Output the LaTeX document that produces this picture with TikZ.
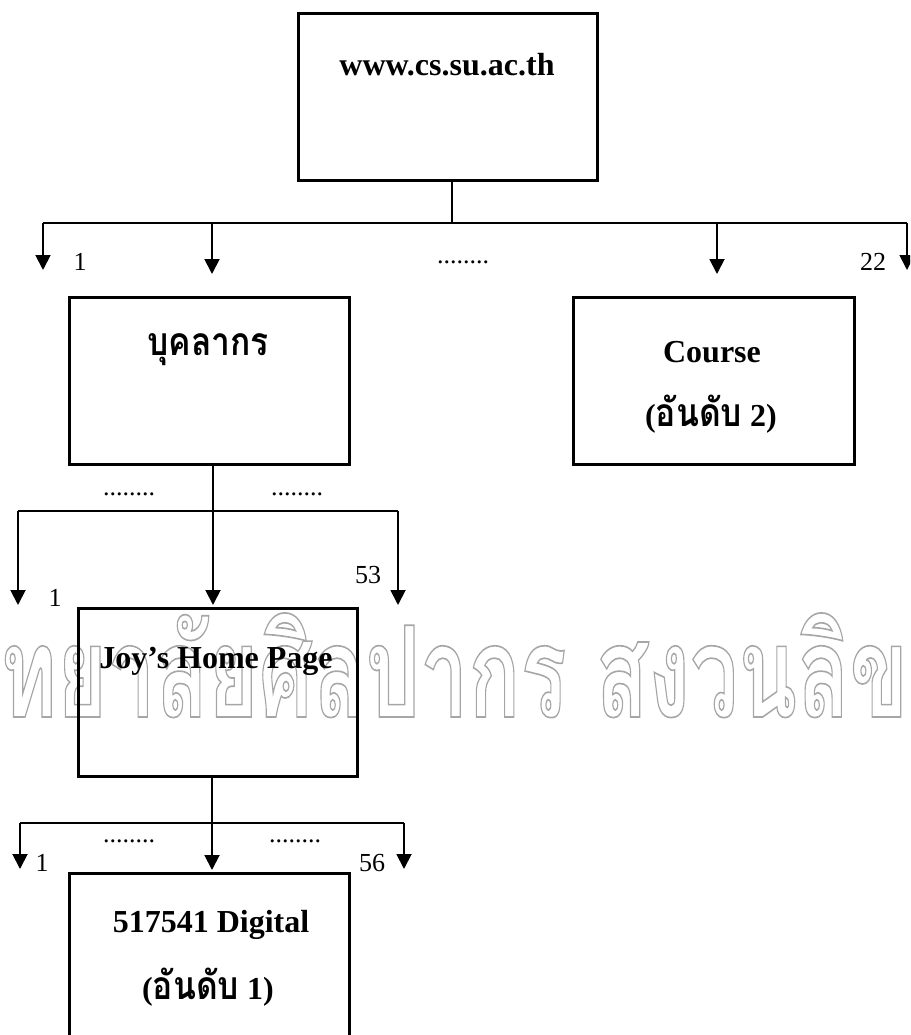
\documentclass[tikz,border=0pt]{standalone}
\usepackage{fontspec}
\usepackage{graphicx}
\usetikzlibrary{arrows.meta}
\setmainfont{Liberation Serif}
\newfontfamily\thai[Script=Thai]{Loma}
\newfontfamily\wmfont[Script=Thai]{Loma}
\newcommand{\outlinetext}[1]{\special{pdf:literal direct 1 Tr 1.3 w}#1\special{pdf:literal direct 0 Tr}}
\newcommand{\thw}[1]{\scalebox{1.05}[1.22]{\thai #1}}
\tikzset{
  box/.style={draw, line width=2.8pt, inner sep=0pt, anchor=north west},
  conn/.style={line width=1.9pt},
  arr/.style={conn, -{Triangle[width=15pt,length=15pt]}},
  lbl/.style={font=\bfseries\fontsize{32}{38}\selectfont, inner sep=0pt},
  num/.style={font=\fontsize{26}{30}\selectfont, inner sep=0pt},
  wm/.style={font=\wmfont\bfseries\fontsize{100}{110}\selectfont, text=black!35, inner sep=0pt, anchor=base west},
}
\begin{document}
\begin{tikzpicture}[x=1pt,y=-1pt]
\useasboundingbox (0,0) rectangle (910,1035);
\begin{scope}
\clip (0,0) rectangle (910,1035);
% watermark
\node[wm] (wmark) at (0,717) {\scalebox{0.86}[1.27]{\outlinetext{ทยาลัยศิลปากร สงวนลิขสิทธิ์}}};

% boxes
\node[box, minimum width=299pt, minimum height=167pt] (top) at (297,12) {};
\node[box, minimum width=280pt, minimum height=167pt] (staff) at (68,296) {};
\node[box, minimum width=281pt, minimum height=167pt] (course) at (572,296) {};
\node[box, minimum width=279pt, minimum height=168pt] (joy) at (77,607) {};
\node[box, minimum width=280pt, minimum height=190pt] (digital) at (68,872) {};

% box texts
\node[lbl] (toptxt) at (447,65) {www.cs.su.ac.th};
\node[lbl] (stafftxt) at (208,350) {\thw{บุคลากร}};
\node[lbl] (coursetxt) at (712,352) {Course};
\node[lbl] (coursetxt2) at (711,414) {(\thw{อันดับ} 2)};
\node[lbl] (joytxt) at (216,661) {Joy’s Home Page};
\node[lbl] (digtxt) at (211,925) {517541 Digital};
\node[lbl] (digtxt2) at (208,987) {(\thw{อันดับ} 1)};

% level 1 connectors
\coordinate (j1) at (452,223);
\coordinate (l1) at (43,223);
\coordinate (m1) at (212,223);
\coordinate (n1) at (717,223);
\coordinate (r1) at (907,223);
\coordinate (e1a) at (43,270);
\coordinate (e1b) at (212,274);
\coordinate (e1c) at (717,274);
\coordinate (e1d) at (907,270);
\draw[conn] (top.south -| j1) -- (j1);
\draw[conn] (l1) -- (r1);
\draw[arr] (l1) -- (e1a);
\draw[arr] (m1) -- (e1b);
\draw[arr] (n1) -- (e1c);
\draw[arr] (r1) -- (e1d);
\node[num] (n1a) at (80,262) {1};
\node[num] (d1) at (463,262) {........};
\node[num] (n1b) at (873,262) {22};

% level 2 connectors
\coordinate (j2) at (213,511);
\coordinate (l2) at (18,511);
\coordinate (r2) at (398,511);
\coordinate (e2a) at (18,605);
\coordinate (e2b) at (213,605);
\coordinate (e2c) at (398,605);
\draw[conn] (l2) -- (r2);
\draw[arr] (staff.south -| j2) -- (e2b);
\draw[arr] (l2) -- (e2a);
\draw[arr] (r2) -- (e2c);
\node[num] (d2a) at (129,494) {........};
\node[num] (d2b) at (297,494) {........};
\node[num] (n2a) at (55,598) {1};
\node[num] (n2b) at (368,575) {53};

% level 3 connectors
\coordinate (j3) at (212,823);
\coordinate (l3) at (20,823);
\coordinate (r3) at (404,823);
\coordinate (e3a) at (20,869);
\coordinate (e3b) at (212,870);
\coordinate (e3c) at (404,869);
\draw[conn] (l3) -- (r3);
\draw[arr] (joy.south -| j3) -- (e3b);
\draw[arr] (l3) -- (e3a);
\draw[arr] (r3) -- (e3c);
\node[num] (d3a) at (129,841) {........};
\node[num] (d3b) at (295,841) {........};
\node[num] (n3a) at (42,863) {1};
\node[num] (n3b) at (372,863) {56};
\end{scope}
\end{tikzpicture}
\end{document}
